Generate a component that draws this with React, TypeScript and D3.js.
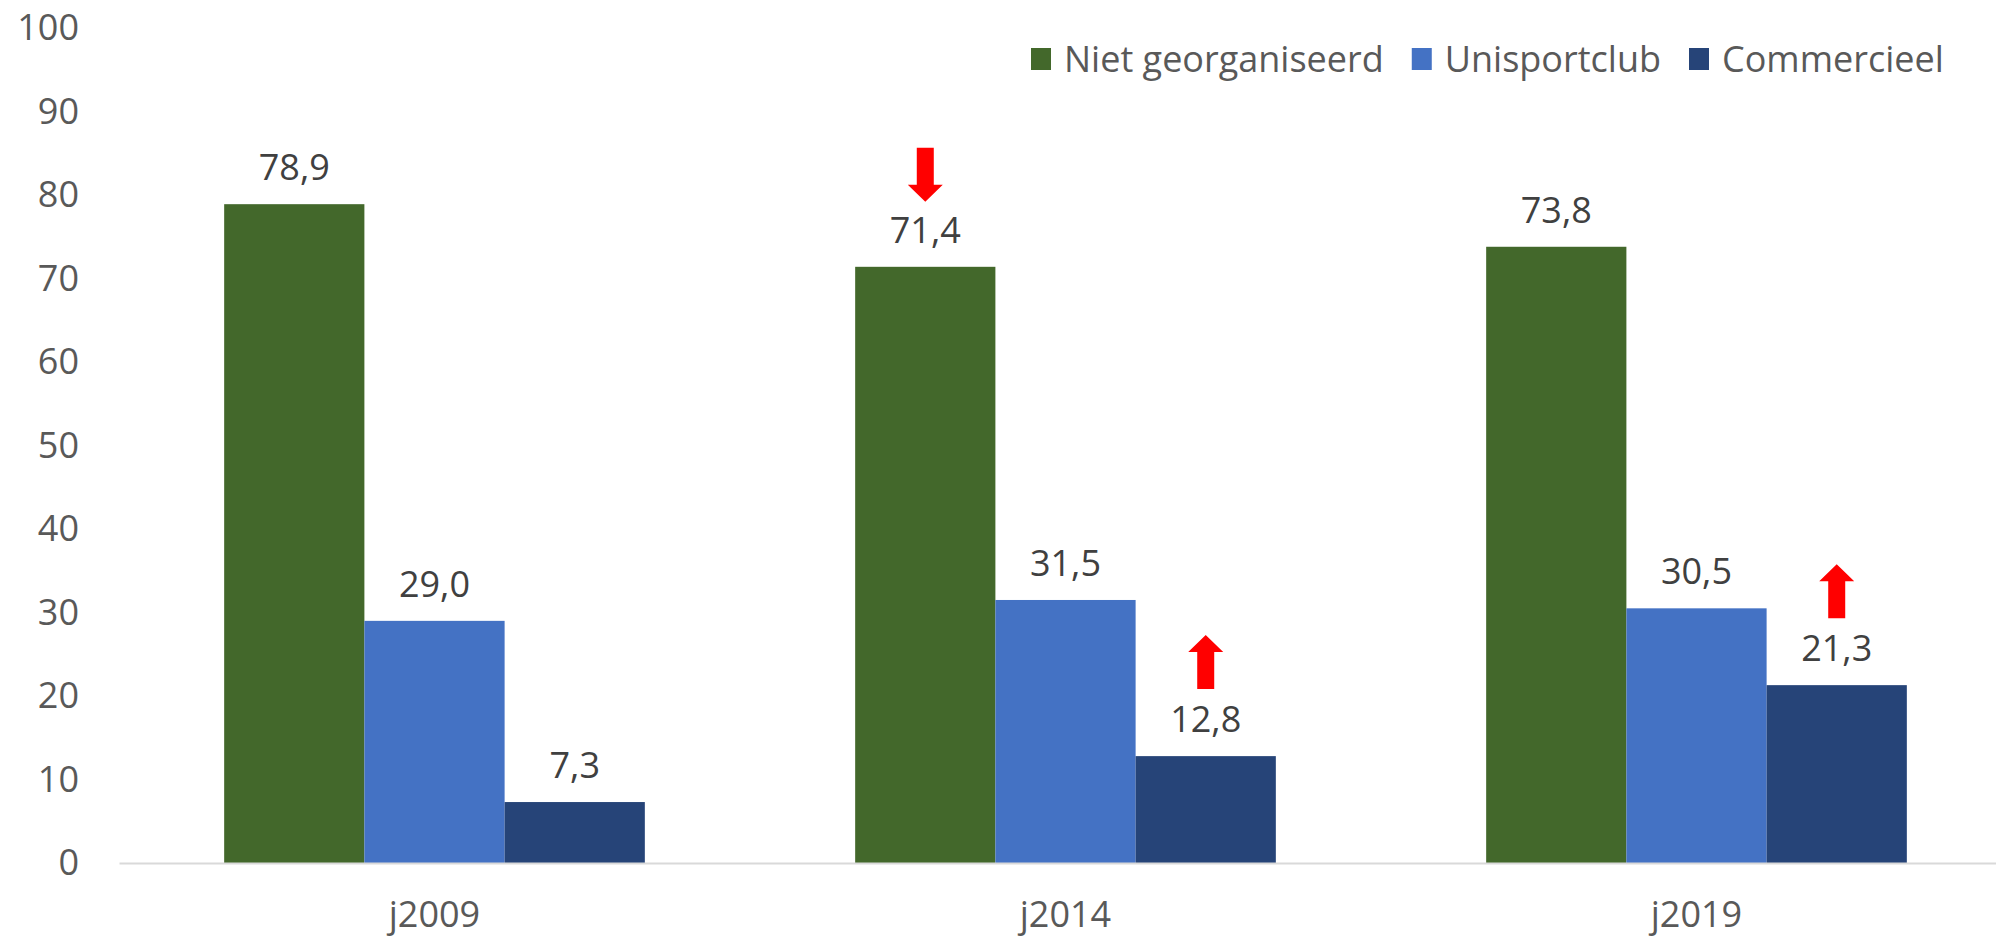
import React, {useRef, useEffect} from 'react'
import {select, scaleBand, scaleLinear, axisLeft, axisBottom} from 'd3'

// chart values
const categories = ['j2009', 'j2014', 'j2019']
const seriesNames = ['Niet georganiseerd', 'Unisportclub', 'Commercieel']
const nietGeorganiseerd = [78.9, 71.4, 73.8]
const unisportclub = [29.0, 31.5, 30.5]
const commercieel = [7.3, 12.8, 21.3]
const yTicks = [0, 10, 20, 30, 40, 50, 60, 70, 80, 90, 100]
// red trend arrows: which bar, which direction
const arrowMarks = [
  {category: 'j2014', series: 'Niet georganiseerd', dir: 'down'},
  {category: 'j2014', series: 'Commercieel', dir: 'up'},
  {category: 'j2019', series: 'Commercieel', dir: 'up'},
]

const colors = ['#43682B', '#4472C4', '#264478']
const FONT = '"Open Sans", sans-serif'

function App() {
  const ref: any = useRef<SVGSVGElement>(null)

  useEffect(() => {
    const svg = select(ref.current)
    svg.selectAll('*').remove()

    const values = [nietGeorganiseerd, unisportclub, commercieel]
    const x0 = scaleBand()
      .domain(categories)
      .range([119, 2012])
      .paddingInner(1 / 3)
      .paddingOuter(1 / 6)
    const x1 = scaleBand().domain(seriesNames).range([0, x0.bandwidth()])
    const y = scaleLinear().domain([0, 100]).range([863, 28])

    // y axis
    const yAxis: any = axisLeft(y).tickValues(yTicks).tickSize(0).tickPadding(40)
    const gy = svg.append('g').attr('transform', 'translate(119,0)').call(yAxis)
    gy.select('.domain').remove()
    gy.selectAll('text')
      .attr('font-family', FONT)
      .attr('font-size', 36)
      .attr('fill', '#595959')

    // bars
    const groups = svg
      .selectAll('.cat')
      .data(categories)
      .join('g')
      .attr('class', 'cat')
      .attr('transform', (d) => `translate(${x0(d)},0)`)

    groups
      .selectAll('rect')
      .data((d, ci) => seriesNames.map((s, si) => ({s, si, v: values[si][ci]})))
      .join('rect')
      .attr('x', (d) => x1(d.s) as number)
      .attr('y', (d) => y(d.v))
      .attr('width', x1.bandwidth())
      .attr('height', (d) => y(0) - y(d.v))
      .attr('fill', (d) => colors[d.si])

    groups
      .selectAll('text')
      .data((d, ci) => seriesNames.map((s, si) => ({s, si, v: values[si][ci]})))
      .join('text')
      .attr('x', (d) => (x1(d.s) as number) + x1.bandwidth() / 2)
      .attr('y', (d) => y(d.v) - 24)
      .attr('text-anchor', 'middle')
      .attr('font-family', FONT)
      .attr('font-size', 36)
      .attr('fill', '#404040')
      .text((d) => d.v.toFixed(1).replace('.', ','))

    // x axis
    const xAxis: any = axisBottom(x0).tickSize(0).tickSizeOuter(0).tickPadding(38)
    const gx = svg.append('g').attr('transform', 'translate(0,863)').call(xAxis)
    gx.select('.domain').attr('stroke', '#d9d9d9').attr('stroke-width', 2)
    gx.selectAll('text')
      .attr('font-family', FONT)
      .attr('font-size', 36)
      .attr('fill', '#595959')

    // arrows
    arrowMarks.forEach((a) => {
      const ci = categories.indexOf(a.category)
      const si = seriesNames.indexOf(a.series)
      const v = values[si][ci]
      const cx = (x0(a.category) as number) + (x1(a.series) as number) + x1.bandwidth() / 2
      const labelTop = y(v) - 24 - 27
      const shaft = 8.5
      const head = 17.5
      let pts: number[][]
      if (a.dir === 'up') {
        const bottom = labelTop - 16
        const tip = bottom - 54
        pts = [
          [cx, tip],
          [cx + head, tip + 17],
          [cx + shaft, tip + 17],
          [cx + shaft, bottom],
          [cx - shaft, bottom],
          [cx - shaft, tip + 17],
          [cx - head, tip + 17],
        ]
      } else {
        const tip = labelTop - 14
        const top = tip - 54
        pts = [
          [cx, tip],
          [cx + head, tip - 17],
          [cx + shaft, tip - 17],
          [cx + shaft, top],
          [cx - shaft, top],
          [cx - shaft, tip - 17],
          [cx - head, tip - 17],
        ]
      }
      svg
        .append('polygon')
        .attr('points', pts.map((p) => p.join(',')).join(' '))
        .attr('fill', '#FF0000')
    })

    // legend
    const legend = svg.append('g').attr('transform', 'translate(1031,0)')
    let lx = 0
    seriesNames.forEach((s, i) => {
      legend
        .append('rect')
        .attr('x', lx)
        .attr('y', 48)
        .attr('width', 20)
        .attr('height', 22)
        .attr('fill', colors[i])
      const t: any = legend
        .append('text')
        .attr('x', lx + 33)
        .attr('y', 59)
        .attr('dy', '0.35em')
        .attr('font-family', FONT)
        .attr('font-size', 36)
        .attr('fill', '#595959')
        .text(s)
      lx += 33 + t.node().getComputedTextLength() + 28
    })
  }, [])

  return (
    <svg
      ref={ref}
      width={1996}
      height={939}
      style={{position: 'absolute', left: 0, top: 0, background: '#fff'}}
    />
  )
}

export default App
